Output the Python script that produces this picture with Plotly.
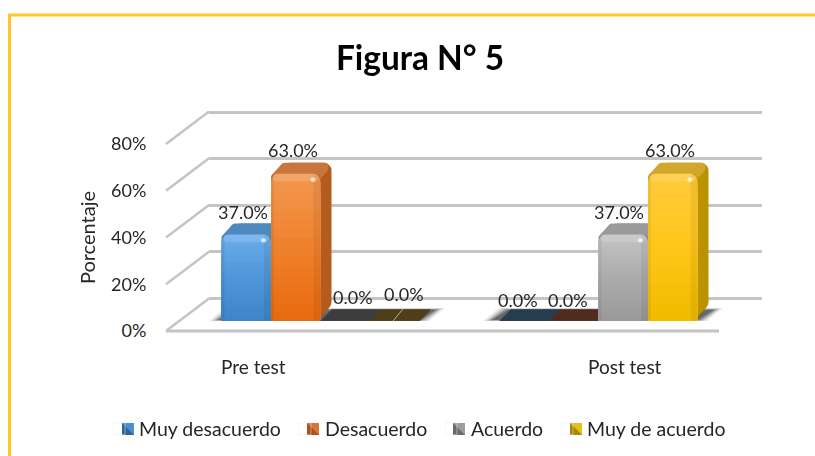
import plotly.graph_objects as go

# ---- data -------------------------------------------------------------
categories = ["Pre test", "Post test"]
series_names = ["Muy desacuerdo", "Desacuerdo", "Acuerdo", "Muy de acuerdo"]
muy_desacuerdo = [37.0, 0.0]
desacuerdo = [63.0, 0.0]
acuerdo = [0.0, 37.0]
muy_de_acuerdo = [0.0, 63.0]
y_ticks = [0, 20, 40, 60, 80]
title_text = "Figura N° 5"
y_title = "Porcentaje"

# ---- style ------------------------------------------------------------
W, H = 815, 456
FONT = "Lato"
TXT = "#262626"
GRID = "#c4c4c4"
series = [muy_desacuerdo, desacuerdo, acuerdo, muy_de_acuerdo]
# top, middle and bottom colour of each front face
front_stops = [
    [(0x68, 0xac, 0xea), (0x4f, 0x96, 0xd8), (0x3f, 0x86, 0xc8)],
    [(0xf2, 0x96, 0x4f), (0xf0, 0x81, 0x2c), (0xe8, 0x6b, 0x10)],
    [(0xc2, 0xc2, 0xc2), (0xac, 0xac, 0xac), (0x9a, 0x9a, 0x9a)],
    [(0xff, 0xcb, 0x3a), (0xff, 0xc7, 0x1a), (0xf0, 0xbc, 0x00)],
]
side_col = ["#3a75a8", "#b35c1e", "#7c7c7c", "#bd9200"]
top_col = ["#4f8ac0", "#c9763e", "#9a9a9a", "#d3a62c"]
zero_col = [["#243a50", "#243a50"], ["#4f2a18", "#4f2a18"],
            ["#3b3b3b", "#3b3b3b"], ["#4f3d14", "#4f3d14"]]
swatch_dark = ["#2f6496", "#a9531a", "#6a6a6a", "#a98800"]
swatch_light = ["#4c8fd0", "#d9743a", "#9c9c9c", "#e6bd1c"]
swatch_px = [122, 307, 453, 570]
legend_px = [99, 285, 431, 547]
label_dx = [[-3, -6], [-3, -6], [8, -4], [9, -3]]
label_up = [[23, 21], [24, 21], [24, 23], [27, 24]]
GRAD_STEPS = 16


def px(x):
    return x / W


def py(y):
    return 1 - y / H


def grad_color(stops, t):
    seg = 0 if t < 0.5 else 1
    f = t * 2 - seg
    rgb = [round(a + (b - a) * f) for a, b in zip(stops[seg], stops[seg + 1])]
    return f"rgb({rgb[0]},{rgb[1]},{rgb[2]})"


# axes geometry
BAR_X0, BAR_X1 = 181.5, 737.5
BAR_Y0, BAR_Y1 = 321.0, 134.0
UX = (BAR_X1 - BAR_X0) / 2      # px per category
UY = (BAR_Y0 - BAR_Y1) / 80     # px per %
BAR_W = 49.5 / UX
DEPTH = 11

fig = go.Figure()

# invisible traces so that the wall and the front axes are drawn
fig.add_trace(go.Scatter(x=[0, 1], y=[0, 80], mode="markers", opacity=0, showlegend=False,
                         hoverinfo="skip", xaxis="x", yaxis="y"))
fig.add_trace(go.Scatter(x=[0, 1], y=[0, 80], mode="markers", opacity=0, showlegend=False,
                         hoverinfo="skip", xaxis="x2", yaxis="y2"))


def add_bar(vals, bases, off_px, width_px, color, radius=0, line_w=None, line_c=None):
    marker = dict(color=color, cornerradius=radius, line=dict(width=0))
    if line_w is not None:
        marker["line"] = dict(width=line_w, color=line_c)
    fig.add_trace(go.Bar(
        x=[0, 1], y=vals, base=bases,
        width=[width_px / UX] * 2,
        offset=[off_px / UX] * 2,
        marker=marker, showlegend=False, hoverinfo="skip",
        xaxis="x3", yaxis="y3"))


for i, vals in enumerate(series):
    left = (i - 2) * BAR_W * UX
    w = BAR_W * UX
    # depth sweep: side faces, from the back forwards
    for s in range(DEPTH, -1, -1):
        colors = [zero_col[i][k] if vals[k] == 0 else side_col[i] for k in range(2)]
        lw = [1.4 if v == 0 else 0 for v in vals]
        add_bar(vals, [s / UY] * 2, left + s, w, colors, 8, lw, colors)
    # top face sweep
    for s in range(DEPTH, -1, -1):
        caps = [4.0 if v > 0 else None for v in vals]
        bases = [v - 4.0 + s / UY if v > 0 else None for v in vals]
        add_bar(caps, bases, left + s * 0.9, w - 2, top_col[i], 8)
    # front face: vertical gradient made of nested bars
    for g in range(GRAD_STEPS):
        frac = 1 - g / GRAD_STEPS
        hh = [v * frac if v > 0 else None for v in vals]
        add_bar(hh, [0, 0], left, w, grad_color(front_stops[i], g / (GRAD_STEPS - 1)),
                8 if g == 0 else 0)
    # edge shading + bevel + highlight
    nz = [v if v > 0 else None for v in vals]
    add_bar(nz, [0, 0], left, 3, "rgba(0,0,0,0.06)", 3)
    add_bar(nz, [0, 0], left + w - 7, 7, "rgba(0,0,0,0.06)", 3)
    add_bar([3.2 if v > 0 else None for v in vals],
            [v - 3.2 if v > 0 else None for v in vals],
            left + 2, w - 4, "rgba(255,255,255,0.14)", 5)
    add_bar([1.8 if v > 0 else None for v in vals],
            [v - 3.4 if v > 0 else None for v in vals],
            left + w - 10, 5, "rgba(255,255,255,0.7)", 2)

# legend entries (swatches are drawn below as two-tone shapes)
for i, name in enumerate(series_names):
    fig.add_trace(go.Bar(x=[None], y=[None], name=name,
                         marker=dict(color="rgba(0,0,0,0)"),
                         legend="legend" if i == 0 else f"legend{i + 1}",
                         xaxis="x3", yaxis="y3", hoverinfo="skip"))

# data labels
annotations = []
for i, vals in enumerate(series):
    for k, v in enumerate(vals):
        annotations.append(dict(
            x=k + ((i - 1.5) * BAR_W), y=v, xref="x3", yref="y3",
            text=f"{v:.1f}%", showarrow=False, xanchor="center", yanchor="middle",
            xshift=label_dx[i][k], yshift=label_up[i][k],
            font=dict(family=FONT, size=18, color=TXT)))
# category labels
for name, cx in zip(categories, [254, 625]):
    annotations.append(dict(x=px(cx), y=py(366), xref="paper", yref="paper", text=name,
                            showarrow=False, xanchor="center", yanchor="middle",
                            font=dict(family=FONT, size=19, color=TXT)))
# title
annotations.append(dict(x=px(419.5), y=py(57), xref="paper", yref="paper",
                        xanchor="center", yanchor="middle",
                        text=f"<b>{title_text}</b>", showarrow=False,
                        font=dict(family=FONT, size=33.4, color="#000000")))

# ---- non-data decoration ---------------------------------------------
shapes = []
# frame
shapes.append(dict(type="path", xref="paper", yref="paper", layer="below",
                   path=f"M {px(9.5)},{py(456)} L {px(9.5)},{py(15)} L {px(815)},{py(15)}",
                   line=dict(color="#fdc726", width=3)))
# left wall diagonals + floor lines
FX, FY0, FDY = 166, 331, 46.75
DX, DY = 43, -32.5
for t in y_ticks:
    yy = FY0 - t / 20 * FDY
    shapes.append(dict(type="line", xref="paper", yref="paper", layer="below",
                       x0=px(FX), y0=py(yy), x1=px(FX + DX), y1=py(yy + DY),
                       line=dict(color=GRID, width=2.5)))
# floor front edge
shapes.append(dict(type="line", xref="paper", yref="paper", layer="below",
                   x0=px(FX), y0=py(FY0), x1=px(719), y1=py(FY0),
                   line=dict(color=GRID, width=3)))
# soft floor shadows
for x0, x1 in [(209, 445), (483, 723)]:
    for inset, op in [(0, 0.10), (3, 0.18), (6, 0.30), (9, 0.35)]:
        a, b = x0 + inset, x1 - inset
        path = (f"M {px(a)},{py(321 - inset * 0.1)} L {px(a + 16)},{py(308 + inset * 0.2)} "
                f"L {px(b)},{py(308 + inset * 0.2)} L {px(b - 16)},{py(321 - inset * 0.1)} Z")
        shapes.append(dict(type="path", xref="paper", yref="paper", layer="below", path=path,
                           fillcolor=f"rgba(30,30,30,{op})", line=dict(width=0)))
# legend swatches
SW = 12
for sx, dark, light in zip(swatch_px, swatch_dark, swatch_light):
    top, bot = 423, 423 + SW
    shapes.append(dict(type="rect", xref="paper", yref="paper", layer="above",
                       x0=px(sx), x1=px(sx + SW), y0=py(bot), y1=py(top),
                       fillcolor=dark, line=dict(width=0)))
    shapes.append(dict(type="path", xref="paper", yref="paper", layer="above",
                       path=f"M {px(sx)},{py(top)} L {px(sx + SW)},{py(top)} L {px(sx + SW)},{py(bot)} Z",
                       fillcolor=light, line=dict(width=0)))
# thin light seam on the flat yellow bar
shapes.append(dict(type="line", xref="paper", yref="paper", layer="above",
                   x0=px(393), y0=py(321), x1=px(403), y1=py(309),
                   line=dict(color="#b9b3a0", width=1)))

legend_common = dict(orientation="h", yanchor="middle", bgcolor="rgba(0,0,0,0)",
                     font=dict(family=FONT, size=19.5, color=TXT), itemwidth=30)
layout_legends = {}
for i, lx in enumerate(legend_px):
    key = "legend" if i == 0 else f"legend{i + 1}"
    layout_legends[key] = dict(x=px(lx), y=py(429), xanchor="left", **legend_common)

# wall axis: range padded by 5 units so the 0% and 80% gridlines are not dropped at the ends
WALL_UY = (298.5 - 112) / 80
fig.update_layout(
    width=W, height=H, autosize=False,
    margin=dict(l=0, r=0, t=0, b=0, pad=0, autoexpand=False),
    paper_bgcolor="white", plot_bgcolor="rgba(0,0,0,0)",
    barmode="overlay", showlegend=True,
    annotations=annotations, shapes=shapes,
    # back wall
    xaxis=dict(domain=[px(209), px(762)], range=[0, 1], visible=False),
    yaxis=dict(domain=[py(298.5 + 5 * WALL_UY), py(112 - 5 * WALL_UY)], range=[-5, 85],
               tickvals=y_ticks, showticklabels=False,
               showgrid=True, gridcolor=GRID, gridwidth=2.5, zeroline=False, showline=False,
               ticks="", anchor="x"),
    # front axis (tick labels and title)
    xaxis2=dict(domain=[px(166), px(719)], range=[0, 1], visible=False, anchor="y2"),
    yaxis2=dict(domain=[py(331), py(144)], range=[0, 80], tickvals=y_ticks,
                ticktext=[f"{t}%" for t in y_ticks], showgrid=False, zeroline=False, showline=False,
                ticks="outside", ticklen=15, tickcolor="rgba(0,0,0,0)", anchor="x2",
                tickfont=dict(family=FONT, size=18, color=TXT),
                title=dict(text=y_title, font=dict(family=FONT, size=20, color=TXT), standoff=10)),
    # bars
    xaxis3=dict(domain=[px(BAR_X0), px(BAR_X1)], range=[-0.5, 1.5], visible=False, anchor="y3"),
    yaxis3=dict(domain=[py(BAR_Y0), py(BAR_Y1)], range=[0, 80], visible=False, anchor="x3"),
    **layout_legends,
)

fig.write_html("out.html", config={"displayModeBar": False},
               post_script="document.documentElement.style.margin='0';document.body.style.margin='0';")
